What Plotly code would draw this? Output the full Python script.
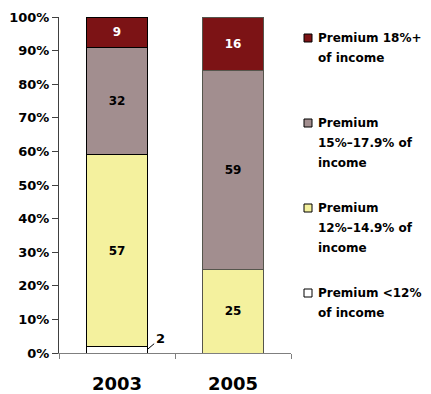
import plotly.graph_objects as go

# Share of families by premium burden, stacked bottom to top
years = ["2003", "2005"]
series_names = [
    "Premium <12%<br>of income",
    "Premium<br>12%–14.9% of<br>income",
    "Premium<br>15%–17.9% of<br>income",
    "Premium 18%+<br>of income",
]
under_12 = [2, 0]
p12_149 = [57, 25]
p15_179 = [32, 59]
p18_plus = [9, 16]
values = [under_12, p12_149, p15_179, p18_plus]

fills = ["#FFFFFF", "#F4F19E", "#A28E8F", "#7C1315"]
label_colors = ["#000000", "#000000", "#000000", "#FFFFFF"]
edge_colors = ["#000000", "#55554C"]

FONT = "DejaVu Sans"

# plot-area geometry in pixels
W, H = 431, 394
L, R, T, B = 59, 140, 17, 41
pw, ph = W - L - R, H - T - B


def px_x(p):
    return (p - L) / pw


def px_y(p):
    return (H - B - p) / ph


fig = go.Figure()
for i, (name, vals) in enumerate(zip(series_names, values)):
    show_text = i > 0
    fig.add_trace(go.Bar(
        x=years,
        y=vals,
        name=name,
        text=[str(v) for v in vals],
        marker=dict(color=fills[i], line=dict(color=edge_colors, width=1)),
        texttemplate="%{text}" if show_text else None,
        textposition="inside" if show_text else "none",
        insidetextanchor="middle",
        textangle=0,
        textfont=dict(family=FONT, size=12, color=label_colors[i], weight="bold"),
        showlegend=False,
        hoverinfo="skip",
    ))

annotations = []
# callout for the thin bottom segment of 2003
annotations.append(dict(
    x=0.26, y=under_12[0] / 2, xref="x", yref="y",
    text=str(under_12[0]), showarrow=True, arrowhead=0, arrowwidth=1,
    arrowcolor="#000000", ax=13, ay=-11,
    font=dict(family=FONT, size=13, color="#000000", weight="bold"),
))

# legend, top entry first
shapes = []
first_line_y = [38, 123, 208, 293]
order = [3, 2, 1, 0]
for row, idx in enumerate(order):
    y0 = first_line_y[row]
    shapes.append(dict(
        type="rect", xref="paper", yref="paper",
        x0=px_x(304), x1=px_x(312), y0=px_y(y0 + 4), y1=px_y(y0 - 4),
        fillcolor=fills[idx], line=dict(color="#000000", width=1),
    ))
    for k, line in enumerate(series_names[idx].split("<br>")):
        annotations.append(dict(
            x=px_x(316), y=px_y(y0 + 20 * k), xref="paper", yref="paper",
            xanchor="left", yanchor="middle", showarrow=False, align="left",
            text=line,
            font=dict(family=FONT, size=12, color="#000000", weight="bold"),
        ))

fig.update_layout(
    width=W, height=H,
    margin=dict(l=L, r=R, t=T, b=B, pad=0, autoexpand=False),
    barmode="stack",
    bargap=0.48,
    plot_bgcolor="#FFFFFF",
    paper_bgcolor="#FFFFFF",
    showlegend=False,
    annotations=annotations,
    shapes=shapes,
    xaxis=dict(
        type="category", categoryorder="array", categoryarray=years,
        range=[-0.5, 1.5], tickson="boundaries", automargin=False,
        ticks="outside", ticklen=5, tickcolor="#7F7F7F", tickwidth=1,
        showline=True, linecolor="#7F7F7F", linewidth=1,
        showgrid=False, zeroline=False,
        ticklabelstandoff=14,
        tickfont=dict(family=FONT, size=18, color="#000000", weight="bold"),
    ),
    yaxis=dict(
        range=[0, 100], dtick=10, ticksuffix="%", automargin=False,
        ticks="outside", ticklen=6, tickcolor="#404040", tickwidth=1,
        showline=True, linecolor="#404040", linewidth=1,
        showgrid=False, zeroline=False,
        tickfont=dict(family=FONT, size=13, color="#000000", weight="bold"),
    ),
)

fig.write_html("out.html")
